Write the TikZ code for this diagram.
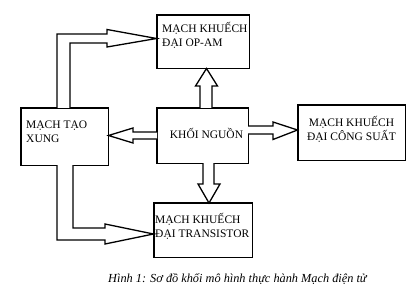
\documentclass[tikz,border=0pt]{standalone}
\usepackage{fontspec}
\setmainfont{Liberation Serif}
\begin{document}
\begin{tikzpicture}[x=1pt,y=-1pt,
  boxarea/.style={draw=none,anchor=north west,inner sep=0pt},
  lbl/.style={font=\fontsize{11.5}{14}\selectfont,align=left,inner sep=0pt},
  blk/.style={draw=black,line width=1.3pt,fill=white,line join=miter}]
\useasboundingbox (0,0) rectangle (419,299);
% boxes
\node[boxarea,minimum width=92pt,minimum height=53pt] (opam) at (157,15) {};
\node[boxarea,minimum width=87pt,minimum height=57pt] (xung) at (21,108) {};
\node[boxarea,minimum width=91pt,minimum height=55pt] (nguon) at (157,108) {};
\node[boxarea,minimum width=107pt,minimum height=55pt] (cs) at (298,105) {};
\node[boxarea,minimum width=98pt,minimum height=54pt] (tr) at (154,203) {};
\foreach \n in {opam,xung,nguon,cs,tr}{\draw[line width=1.6pt] (\n.north west) rectangle (\n.south east);}
% labels
\node[lbl,anchor=west] (t1) at (162,35) {MẠCH KHUẾCH\\ĐẠI OP-AM};
\node[lbl,anchor=west] (t2) at (26,131.5) {MẠCH TẠO\\XUNG};
\node[lbl,anchor=center] (t3) at (206.5,133) {KHỐI NGUỒN};
\node[lbl,anchor=center,align=center] (t4) at (351.5,129) {MẠCH KHUẾCH\\ĐẠI CÔNG SUẤT};
\node[lbl,anchor=west] (t5) at (155,226) {MẠCH KHUẾCH\\ĐẠI TRANSISTOR};
% block arrows
% up: nguon -> opam
\draw[blk] (200,108) -- (200,86) -- (195.5,86) -- (206.5,68.5) -- (217.5,86) -- (212,86) -- (212,108);
% left: nguon -> xung
\draw[blk] (157,132) -- (133,132) -- (133,128) -- (108.5,135.5) -- (133,143) -- (133,139) -- (157,139);
% right: nguon -> cs
\draw[blk] (248,126) -- (273,126) -- (273,122) -- (297.5,130) -- (273,139.5) -- (273,134) -- (248,134);
% down: nguon -> tr
\draw[blk] (203,163) -- (203,184) -- (198,184) -- (209,203) -- (220,184) -- (214,184) -- (214,163);
% bent: xung -> opam
\draw[blk] (57,108) -- (57,34) -- (107,34) -- (107,29.5) -- (156.5,38.5) -- (107,47) -- (107,43) -- (70,43) -- (70,108);
% bent: xung -> tr
\draw[blk] (57,165) -- (57,240) -- (105,240) -- (105,244) -- (153.5,234) -- (105,224) -- (105,228) -- (73,228) -- (73,165);
% caption
\node[font=\fontsize{12.3}{14}\selectfont\itshape,anchor=west,inner sep=0pt] (cap) at (108,279) {Hình 1: Sơ đồ khối mô hình thực hành Mạch điện tử};
\end{tikzpicture}
\end{document}
